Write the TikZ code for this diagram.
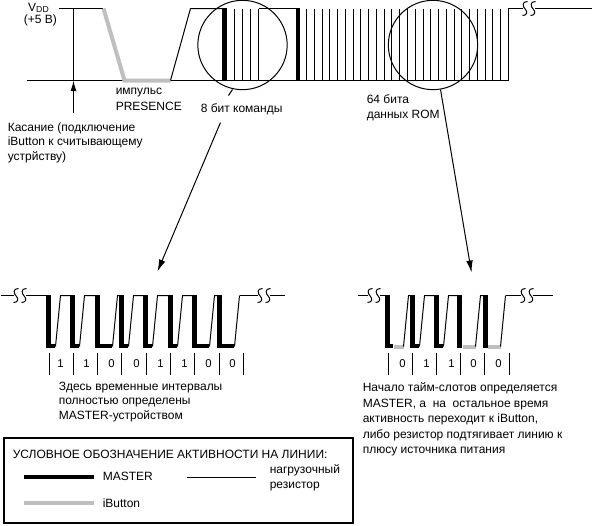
\documentclass[tikz,border=0pt]{standalone}
\usepackage{fontspec}
\setmainfont{Liberation Sans}
\usetikzlibrary{arrows.meta}
\begin{document}
\begin{tikzpicture}[
        x=0.75pt, y=-0.75pt,
        thinline/.style={line width=0.75pt, black},
        masterline/.style={line width=3pt, black},
        ibuttonline/.style={line width=3pt, black!25},
        barfill/.style={fill=black, shift={(-0.5,-0.5)}},
        lens/.style={circle, draw, line width=0.75pt, minimum size=67pt, inner sep=0pt},
        label/.style={font=\fontsize{9}{10.9}\selectfont, align=left, anchor=west, inner sep=0pt},
        bit/.style={font=\fontsize{8.5}{10}\selectfont, inner sep=0pt},
        tear/.pic={\draw[thinline] (4,-7) .. controls (-2,-7) and (-1,-2) .. (2,1) .. controls (4,3) and (4,7) .. (-1,7);
            \draw[thinline] (12,-7) .. controls (6,-7) and (7,-2) .. (10,1) .. controls (12,3) and (12,7) .. (7,7);}
    ]
        \useasboundingbox (-0.5,-0.5) rectangle (591.5,524.5);

        % Main timeline
        \draw[thinline] (26,80) -- (124,80);
        \draw[thinline] (170,80) -- (508,80);
        \draw[thinline] (58,8) -- (102,8);
        \draw[ibuttonline] (103,8) -- (124,80) -- (170,80);
        \draw[thinline] (170,80) -- (190,8) -- (222,8);
        \fill[barfill] (222,8) rectangle (227,81);
        \foreach \barx in {234,242,250,258}
            \draw[thinline] (\barx,8) -- (\barx,80);
        \draw[thinline] (258,8) -- (296,8);
        \fill[barfill] (296,8) rectangle (300,81);
        \foreach \barx in {306,313.77,...,508}
            \draw[thinline] (\barx,8) -- (\barx,80);
        \draw[thinline] (508,80) -- (508,8) -- (522,8);
        \draw[thinline] (534,8) -- (592,8);
        \pic at (523,8) {tear};

        % Lenses
        \node[lens] (lens_cmd) at (242,44.5) {};
        \node[lens] (lens_rom) at (432.5,44.5) {};

        % Touch arrow
        \coordinate (touch_end) at (73,112);
        \coordinate (touch_tip) at (73,80);
        \coordinate (touch_top) at (73,8);
        \draw[thinline] (touch_top) -- (touch_tip);
        \draw[thinline, -{Latex[length=8pt,width=4.5pt]}] (touch_end) -- (touch_tip);

        % Upper labels
        \node[label, anchor=center] (label_vdd) at (38,7.5) {V\raisebox{-1pt}{\fontsize{6.5}{7}\selectfont DD}};
        \node[label, anchor=center] (label_volt) at (40,20) {(+5 В)};
        \node[label] (label_pulse) at (115,92) {импульс};
        \node[label] (label_presence) at (115,106) {PRESENCE};
        \node[label] (label_cmd) at (200,109) {8 бит команды};
        \node[label] (label_touch) at (7,142) {Касание (подключение\\iButton к считывающему\\устрйству)};
        \node[label] (label_rom) at (366,107.5) {64 бита\\данных ROM};

        % Callouts
        \coordinate (cmd_start) at (232,89);
        \coordinate (cmd_gap_a) at (228,95);
        \coordinate (cmd_gap_b) at (220,122);
        \coordinate (cmd_tip) at (157,271);
        \coordinate (rom_start) at (440,89);
        \coordinate (rom_tip) at (471,272);
        \draw[thinline] (cmd_start) -- (cmd_gap_a);
        \draw[thinline, -{Latex[length=9pt,width=5pt]}] (cmd_gap_b) -- (cmd_tip);
        \draw[thinline, -{Latex[length=9pt,width=5pt]}] (rom_start) -- (rom_tip);

        % Left detail: 11001100
        \draw[thinline] (0,295) -- (13,295);
        \draw[thinline] (25,295) -- (46,295);
        \pic at (14,295) {tear};
        \foreach \barx/\lowx/\nextx in {46/55/70,70/79/95,95/112/119,119/128/143,143/152/168,168/177/192,192/209/217,217/234/239}
        {
            \draw[thinline] (\lowx,346) -- ++(5,-51) -- (\nextx,295);
            \fill[barfill] (\barx,295) rectangle ++(5,53);
            \fill[barfill] (\barx,344) rectangle (\lowx,348);
        }
        \draw[thinline] (239,295) -- (257,295);
        \draw[thinline] (269,295) -- (284,295);
        \pic at (258,295) {tear};
        \foreach \tickx in {48.7,72.9,97.2,121.4,145.7,170,194.2,218.5,242.7}
            \draw[thinline] (\tickx,352) -- (\tickx,374);
        \node[bit] (bit_l1) at (60,363) {1};
        \node[bit] (bit_l2) at (86,363) {1};
        \node[bit] (bit_l3) at (111,363) {0};
        \node[bit] (bit_l4) at (136,363) {0};
        \node[bit] (bit_l5) at (160,363) {1};
        \node[bit] (bit_l6) at (184,363) {1};
        \node[bit] (bit_l7) at (208,363) {0};
        \node[bit] (bit_l8) at (232,363) {0};
        \node[label, font=\fontsize{9}{11.2}\selectfont] (label_left) at (58,401.5) {Здесь временные интервалы\\полностью определены\\MASTER-устройством};

        % Right detail: 01100
        \draw[thinline] (357,295) -- (367,295);
        \draw[thinline] (379,295) -- (385,295);
        \pic at (368,295) {tear};
        \foreach \barx/\lowx/\endx/\nextx in {385/393/403/410,410/419/419/434,434/443/443/457,457/462/475/483,483/487/500/505}
        {
            \draw[ibuttonline] (\lowx,346) -- (\endx,346);
            \draw[thinline] (\endx,346) -- ++(5,-51) -- (\nextx,295);
            \fill[barfill] (\barx,295) rectangle ++(5,53);
            \fill[barfill] (\barx,344) rectangle (\lowx,348);
        }
        \draw[thinline] (505,295) -- (520,295);
        \draw[thinline] (532,295) -- (552,295);
        \pic at (521,295) {tear};
        \foreach \tickx in {388,412,436,460,484,509}
            \draw[thinline] (\tickx,352) -- (\tickx,374);
        \node[bit] (bit_r1) at (402,363) {0};
        \node[bit] (bit_r2) at (426,363) {1};
        \node[bit] (bit_r3) at (451,363) {1};
        \node[bit] (bit_r4) at (473,363) {0};
        \node[bit] (bit_r5) at (498,363) {0};
        \node[label, font=\fontsize{9}{11.6}\selectfont] (label_right) at (362,419) {Начало тайм-слотов определяется\\MASTER, а\ \ на\ \ остальное время\\активность переходит к iButton,\\либо резистор подтягивает линию к\\плюсу источника питания};

        % Legend
        \draw[line width=1.5pt] (3,437) rectangle (352,522);
        \node[label] (legend_title) at (12,454) {УСЛОВНОЕ ОБОЗНАЧЕНИЕ АКТИВНОСТИ НА ЛИНИИ:};
        \coordinate (legend_m_a) at (23,476);
        \coordinate (legend_m_b) at (93,476);
        \coordinate (legend_i_a) at (23,502);
        \coordinate (legend_i_b) at (93,502);
        \coordinate (legend_r_a) at (186,477);
        \coordinate (legend_r_b) at (255,477);
        \draw[masterline] (legend_m_a) -- (legend_m_b);
        \draw[ibuttonline] (legend_i_a) -- (legend_i_b);
        \draw[thinline] (legend_r_a) -- (legend_r_b);
        \node[label] (legend_master) at (102,476) {MASTER};
        \node[label] (legend_ibutton) at (102,503) {iButton};
        \node[label] (legend_resistor) at (269,477.5) {нагрузочный\\резистор};
\end{tikzpicture}
\end{document}
